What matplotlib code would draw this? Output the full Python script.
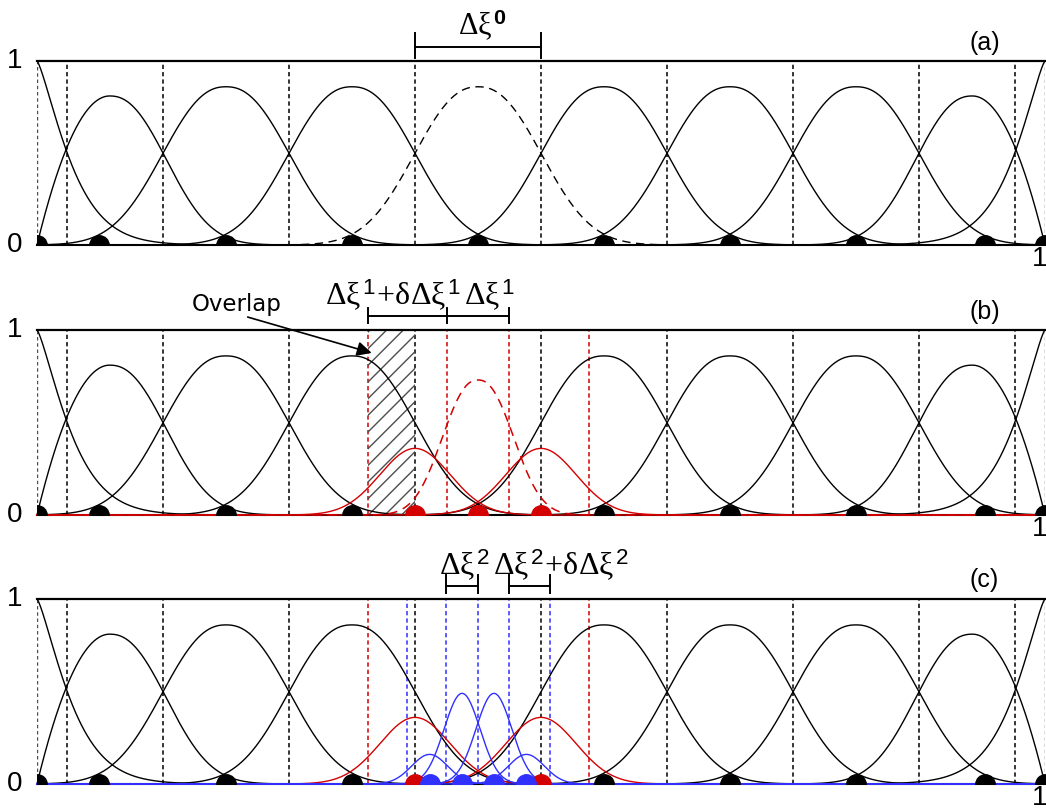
import matplotlib.pyplot as plt
import numpy as np

plt.rcParams['font.family'] = ['Liberation Sans', 'DejaVu Sans']
plt.rcParams['mathtext.fontset'] = 'custom'
plt.rcParams['mathtext.rm'] = 'Liberation Serif'
plt.rcParams['mathtext.it'] = 'Liberation Serif'
plt.rcParams['mathtext.sf'] = 'Liberation Sans'
plt.rcParams['mathtext.bf'] = 'Liberation Sans:bold'
plt.rcParams['hatch.linewidth'] = 1.0

# coarse level basis functions: centre, peak, half-widths (where value = peak/2), exponent
coarse_centers = [0.0, 0.072, 0.1875, 0.3125, 0.4375, 0.5625, 0.6875, 0.8125, 0.928, 1.0]
coarse_peaks = [1.0, 0.81, 0.86, 0.86, 0.86, 0.86, 0.86, 0.86, 0.81, 1.0]
coarse_wl = [0.03, 0.072, 0.0694, 0.0694, 0.0694, 0.0694, 0.0694, 0.0694, 0.062, 0.03]
coarse_wr = [0.03, 0.062, 0.0694, 0.0694, 0.0694, 0.0694, 0.0694, 0.0694, 0.072, 0.03]
coarse_pow = [1.3, 2.3, 2.3, 2.3, 2.3, 2.3, 2.3, 2.3, 2.3, 1.3]
coarse_ramp = ["", "left", "", "", "", "", "", "", "right", ""]
refined_index = 4  # the basis function at 0.4375 that gets refined

coarse_knots = [0.03, 0.125, 0.25, 0.375, 0.5, 0.625, 0.75, 0.875, 0.97]
coarse_nodes = [0.0, 0.062, 0.1875, 0.3125, 0.4375, 0.5625, 0.6875, 0.8125, 0.94, 1.0]

# level 1 (red)
red_solid_centers = [0.375, 0.5]
red_solid_peak = 0.36
red_solid_w = 0.041
red_dashed_center = 0.4375
red_dashed_peak = 0.73
red_dashed_w = 0.039
red_knots_b = [0.328, 0.4067, 0.468, 0.5476]
red_knots_c = [0.328, 0.5476]
red_nodes_b = [0.375, 0.4375, 0.5]
red_nodes_c = [0.375, 0.5]

# level 2 (blue)
blue_centers = [0.3895, 0.4217, 0.4533, 0.4855]
blue_peaks = [0.16, 0.49, 0.49, 0.16]
blue_w = 0.021
blue_knots = [0.367, 0.4058, 0.4375, 0.468, 0.509]
blue_nodes = [0.3895, 0.4217, 0.4533, 0.4855]

overlap_span = (0.328, 0.375)

RED = "#d40000"
BLUE = "#3030ff"

x = np.linspace(0, 1, 3000)


def bump(c, peak, wl, wr, p=2.0, ramp=""):
    d = np.where(x < c, (c - x) / wl, (x - c) / wr)
    y = peak * 2.0 ** (-np.abs(d) ** p)
    if ramp == "left":
        t = np.clip(x / c, 0, 1)
        y = np.where(x < c, peak * (1 - (1 - t) ** 2), y)
    elif ramp == "right":
        t = np.clip((1 - x) / (1 - c), 0, 1)
        y = np.where(x > c, peak * (1 - (1 - t) ** 2), y)
    return y


def knot_lines(ax, knots, color):
    for k in knots:
        ax.axvline(k, color=color, lw=1.1, dashes=(2.8, 2.0), zorder=2)


def base_panel(ax, label, skip_refined):
    ax.set_xlim(0, 1)
    ax.set_ylim(0, 1)
    ax.axis("off")
    ax.axhline(1, color="black", lw=1.6, clip_on=False, zorder=5)
    ax.axhline(0, color="black", lw=1.5, clip_on=False, zorder=1)
    for edge in (0, 1):
        ax.axvline(edge, color="0.3", lw=1.0, dashes=(2.5, 2.0), zorder=1)
    knot_lines(ax, coarse_knots, "black")
    for i in range(len(coarse_centers)):
        y = bump(coarse_centers[i], coarse_peaks[i], coarse_wl[i], coarse_wr[i],
                 coarse_pow[i], coarse_ramp[i])
        if i == refined_index:
            if skip_refined:
                continue
            ax.plot(x, y, color="black", lw=1.0, dashes=(6, 4), clip_on=False, zorder=3)
        else:
            ax.plot(x, y, color="black", lw=1.0, clip_on=False, zorder=3)
    nodes = [n for j, n in enumerate(coarse_nodes) if not (skip_refined and j == refined_index)]
    ax.plot(nodes, np.zeros(len(nodes)), "o", color="black", ms=14, zorder=6)
    ax.text(-0.022, 1, "1", fontsize=20, ha="center", va="center")
    ax.text(-0.022, 0, "0", fontsize=20, ha="center", va="center")
    ax.text(0.995, -0.075, "1", fontsize=20, ha="center", va="center")
    ax.text(0.94, 1.10, label, fontsize=18, ha="center", va="center")


def bracket(ax, ticks, y, y0, y1):
    ax.plot([ticks[0], ticks[-1]], [y, y], color="black", lw=1.4, clip_on=False)
    for t in ticks:
        ax.plot([t, t], [y0, y1], color="black", lw=1.4, clip_on=False)


fig = plt.figure(figsize=(10.46, 8.09), dpi=100)
panel_px = [(61, 245), (330, 515), (599, 784)]
axes = []
for top, bottom in panel_px:
    axes.append(fig.add_axes([37 / 1046, 1 - bottom / 809, 1008 / 1046, (bottom - top) / 809]))
ax_a, ax_b, ax_c = axes

# (a) coarse level
base_panel(ax_a, "(a)", skip_refined=False)
ax_a.text(0.442, 1.141, r"$\Delta\xi^{\mathbf{0}}$", fontsize=22, ha="center", va="baseline")
bracket(ax_a, [0.375, 0.5], 1.076, 1.016, 1.152)

# (b) first refinement
base_panel(ax_b, "(b)", skip_refined=True)
knot_lines(ax_b, red_knots_b, RED)
for c in red_solid_centers:
    ax_b.plot(x, bump(c, red_solid_peak, red_solid_w, red_solid_w, 2.0), color=RED, lw=1.0,
              clip_on=False, zorder=4)
ax_b.plot(x, bump(red_dashed_center, red_dashed_peak, red_dashed_w, red_dashed_w, 2.3),
          color=RED, lw=1.1, dashes=(6, 4), clip_on=False, zorder=4)
ax_b.plot(red_nodes_b, np.zeros(len(red_nodes_b)), "o", color=RED, ms=14, zorder=6)
ax_b.fill_between(overlap_span, 0, 1, facecolor="none", edgecolor="0.3", hatch="//",
                  linewidth=0, zorder=2)
ax_b.text(0.353, 1.135, r"$\Delta\xi^{\mathsf{1}}\!+\!\delta\Delta\xi^{\mathsf{1}}$",
          fontsize=23, ha="center", va="baseline")
ax_b.text(0.449, 1.135, r"$\Delta\xi^{\mathsf{1}}$", fontsize=23, ha="center", va="baseline")
bracket(ax_b, red_knots_b[:3], 1.076, 1.038, 1.119)
ax_b.text(0.198, 1.14, "Overlap", fontsize=16.5, ha="center", va="center",
          family="DejaVu Sans")
ax_b.annotate("", xy=(0.332, 0.876), xytext=(0.209, 1.07),
              arrowprops=dict(arrowstyle="-|>", color="black", lw=1.2, mutation_scale=22,
                              shrinkA=0, shrinkB=0),
              annotation_clip=False)

# (c) second refinement
base_panel(ax_c, "(c)", skip_refined=True)
knot_lines(ax_c, red_knots_c, RED)
knot_lines(ax_c, blue_knots, BLUE)
for c in red_solid_centers:
    ax_c.plot(x, bump(c, red_solid_peak, red_solid_w, red_solid_w, 2.0), color=RED, lw=1.0,
              clip_on=False, zorder=4)
for c, pk in zip(blue_centers, blue_peaks):
    ax_c.plot(x, bump(c, pk, blue_w, blue_w), color=BLUE, lw=1.0, clip_on=False, zorder=4)
ax_c.plot(red_nodes_c, np.zeros(len(red_nodes_c)), "o", color=RED, ms=14, zorder=6)
ax_c.plot(blue_nodes, np.zeros(len(blue_nodes)), "o", color=BLUE, ms=14, zorder=6)
ax_c.text(0.4236, 1.13, r"$\Delta\xi^{\mathsf{2}}$", fontsize=23, ha="center", va="baseline")
ax_c.text(0.52, 1.13, r"$\Delta\xi^{\mathsf{2}}\!+\!\delta\Delta\xi^{\mathsf{2}}$", fontsize=23,
          ha="center", va="baseline")
bracket(ax_c, [blue_knots[1], blue_knots[2]], 1.07, 1.032, 1.13)
bracket(ax_c, [blue_knots[3], blue_knots[4]], 1.07, 1.032, 1.13)

fig.savefig("out.png", dpi=100)
